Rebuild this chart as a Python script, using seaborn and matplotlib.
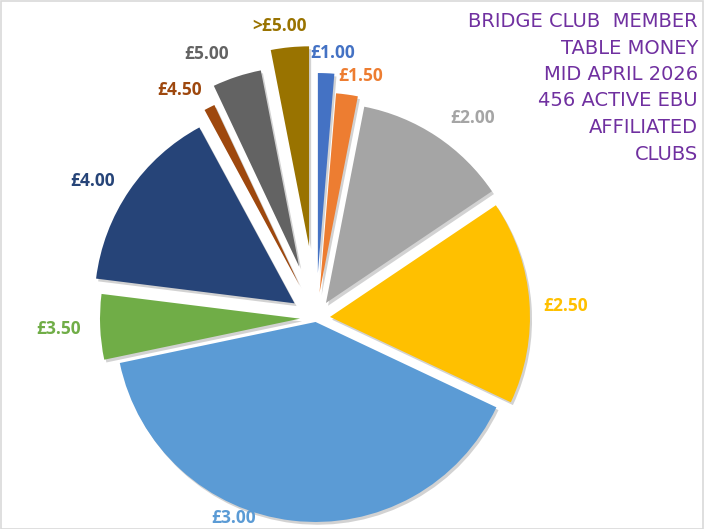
import numpy as np
import matplotlib
matplotlib.use("Agg")
import matplotlib.pyplot as plt
import matplotlib.patheffects as pe
from matplotlib.patches import Rectangle
import seaborn as sns

# ---- data ----
labels = ["£1.00", "£1.50", "£2.00", "£2.50", "£3.00",
          "£3.50", "£4.00", "£4.50", "£5.00", ">£5.00"]
clubs = [6, 8, 57, 75, 181, 24, 69, 4, 18, 14]
title_lines = ["BRIDGE CLUB  MEMBER", "TABLE MONEY", "MID APRIL 2026",
               "456 ACTIVE EBU", "AFFILIATED", "CLUBS"]

# ---- style ----
hex_colors = ["#4472C4", "#ED7D31", "#A5A5A5", "#FFC000", "#5B9BD5",
              "#70AD47", "#264478", "#9E480E", "#636363", "#997300"]
explode = [0.225, 0.128, 0.09, 0.07, 0.02, 0.08, 0.13, 0.18, 0.27, 0.36]
label_r = [1.33, 1.23, 1.27, 1.25, 1.08, 1.29, 1.31, 1.33, 1.43, 1.47]
label_dang = [1.2, 2.6, 4.5, 1.6, 15.7, 0.0, -2.7, -4.0, -4.4, -1.7]  # clockwise deg

sns.set_theme(style="white")
plt.rcParams['font.family'] = ['DejaVu Sans']
palette = sns.color_palette(hex_colors)

W, H = 704, 529
fig = plt.figure(figsize=(W / 100, H / 100), dpi=100)
fig.patch.set_facecolor("white")
ax = fig.add_axes([0, 0, 1, 1])

R_PX = 200.0
CX, CY = 316.0, 318.0   # pie centre in pixels (from top-left)

wedges, _ = ax.pie(
    clubs, colors=palette, explode=explode, startangle=90,
    counterclock=False, radius=1.0,
    wedgeprops=dict(linewidth=0, path_effects=[
        pe.SimplePatchShadow(offset=(1.5, -2), shadow_rgbFace=(0.5, 0.5, 0.5), alpha=0.35),
        pe.Normal()]),
)

ax.set_aspect("equal")
ax.set_xlim(-CX / R_PX, (W - CX) / R_PX)
ax.set_ylim(-(H - CY) / R_PX, CY / R_PX)
ax.axis("off")

for w, lab, col, r, da in zip(wedges, labels, hex_colors, label_r, label_dang):
    mid = np.deg2rad((w.theta1 + w.theta2) / 2.0 - da)
    ax.text(r * np.cos(mid), r * np.sin(mid), lab, color=col,
            fontsize=12.5, fontweight="bold", family=["Open Sans", "DejaVu Sans"],
            ha="center", va="center")

baselines = [27.3, 53.5, 80.0, 106.5, 133.0, 159.5]
for line, yb in zip(title_lines, baselines):
    fig.text(698 / W, 1 - yb / H, line, color="#7030A0", fontsize=14,
             family=["DejaVu Sans"], ha="right", va="baseline")

fig.patches.append(Rectangle((0.5 / W, 0.5 / H), 1 - 1.5 / W, 1 - 1.5 / H,
                             transform=fig.transFigure, fill=False,
                             edgecolor="#D9D9D9", linewidth=1.2))

fig.savefig("out.png", dpi=100, facecolor="white")
